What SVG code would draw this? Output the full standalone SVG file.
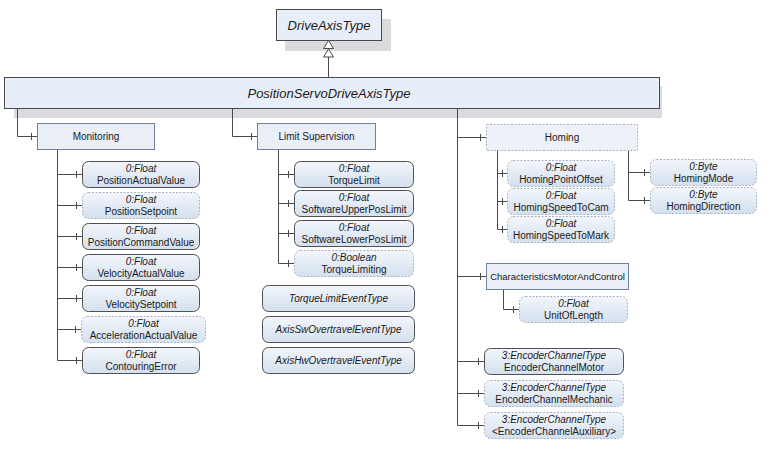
<svg xmlns="http://www.w3.org/2000/svg" width="770" height="450" viewBox="0 0 770 450">
<defs>
<linearGradient id="g" x1="0" y1="0" x2="0" y2="1">
<stop offset="0" stop-color="#f3f6fb"/>
<stop offset="1" stop-color="#d3e0ee"/>
</linearGradient>
<style>
text{font-family:"Liberation Sans",Arial,sans-serif;fill:#1a1a1a;text-anchor:middle}
.t{font-size:10px}
.s{font-size:9.5px}
.i{font-style:italic}
.big{font-size:13px;font-style:italic}
.shadow{fill:#d9dbde}
.bar{fill:#e8eef8;stroke:#4a4a4a;stroke-width:1}
.fold{fill:#e9eef7;stroke:#6f819d;stroke-width:1}
.fdash{fill:#eef2f8;stroke:#a9b2bd;stroke-width:1;stroke-dasharray:2,1.5}
.v{fill:url(#g);stroke:#505050;stroke-width:1}
.vd{fill:url(#g);stroke:#a9b2bd;stroke-width:1;stroke-dasharray:2,1.5}
.c{fill:none;stroke:#4a4a4a;stroke-width:1}
.tick{stroke:#4a4a4a;stroke-width:1}
.arr{fill:#fff;stroke:#4a4a4a;stroke-width:1}
</style>
</defs>
<rect width="770" height="450" fill="#fff"/>

<g id="DriveAxisType">
<rect class="shadow" x="285" y="19" width="106" height="32"/>
<rect class="bar" x="276.5" y="9.5" width="105" height="31"/>
<text class="big" x="329" y="30">DriveAxisType</text>
</g>

<g id="PositionServoDriveAxisType">
<rect class="shadow" x="14" y="86" width="648" height="32"/>
<rect class="bar" x="4.5" y="77.5" width="655" height="31"/>
<text class="big" x="329" y="98">PositionServoDriveAxisType</text>
</g>

<g id="connectors">
<path class="c" d="M328.5,57 V77"/>
<polygon class="arr" points="328.5,40.5 323.5,48.5 333.5,48.5"/>
<polygon class="arr" points="328.5,49 323.5,57 333.5,57"/>
<path class="c" d="M17.5,108 V136.5 H37"/>
<path class="tick" d="M31.5,133 V140"/>
<path class="c" d="M57.5,149 V360.5 H82"/>
<path class="c" d="M57.5,174.5 H82 M57.5,205.5 H82 M57.5,236.5 H82 M57.5,267.5 H82 M57.5,298.5 H82 M57.5,329.5 H81"/>
<path class="tick" d="M76.5,171 V178 M76.5,202 V209 M76.5,233 V240 M76.5,264 V271 M76.5,295 V302 M75.5,326 V333 M76.5,357 V364"/>
<path class="c" d="M232.5,108 V136.5 H257"/>
<path class="tick" d="M251.5,133 V140"/>
<path class="c" d="M278.5,150 V263.5 H294"/>
<path class="c" d="M278.5,174.5 H294 M278.5,203.5 H294 M278.5,233.5 H294"/>
<path class="tick" d="M288.5,171 V178 M288.5,200 V207 M288.5,230 V237 M288.5,260 V267"/>
<path class="c" d="M457.5,108 V425.5 H484"/>
<path class="c" d="M457.5,137.5 H486 M457.5,276.5 H486 M457.5,361.5 H484 M457.5,393.5 H484"/>
<path class="tick" d="M480.5,134 V141 M480.5,273 V280 M478.5,358 V365 M478.5,390 V397 M478.5,422 V429"/>
<path class="c" d="M497.5,150 V229.5 H507"/>
<path class="c" d="M497.5,173.5 H507 M497.5,201.5 H507"/>
<path class="tick" d="M502.5,170 V177 M502.5,198 V205 M502.5,226 V233"/>
<path class="c" d="M628.5,150 V200.5 H650"/>
<path class="c" d="M628.5,172.5 H650"/>
<path class="tick" d="M644.5,169 V176 M644.5,197 V204"/>
<path class="c" d="M503.5,289 V309.5 H519"/>
<path class="tick" d="M513.5,306 V313"/>
</g>

<g id="Monitoring">
<rect class="fold" x="37.5" y="123.5" width="117" height="26"/>
<text class="t" x="96" y="140">Monitoring</text>
</g>
<g id="PositionActualValue">
<rect class="v" x="82.5" y="161.5" width="117" height="26" rx="6"/>
<text class="t i" x="141" y="172">0:Float</text>
<text class="t" x="141" y="184">PositionActualValue</text>
</g>
<g id="PositionSetpoint">
<rect class="vd" x="82.5" y="192.5" width="117" height="26" rx="6"/>
<text class="t i" x="141" y="203">0:Float</text>
<text class="t" x="141" y="215">PositionSetpoint</text>
</g>
<g id="PositionCommandValue">
<rect class="v" x="82.5" y="223.5" width="117" height="26" rx="6"/>
<text class="t i" x="141" y="234">0:Float</text>
<text class="t" x="141" y="246">PositionCommandValue</text>
</g>
<g id="VelocityActualValue">
<rect class="v" x="82.5" y="254.5" width="117" height="26" rx="6"/>
<text class="t i" x="141" y="265">0:Float</text>
<text class="t" x="141" y="277">VelocityActualValue</text>
</g>
<g id="VelocitySetpoint">
<rect class="v" x="82.5" y="285.5" width="117" height="26" rx="6"/>
<text class="t i" x="141" y="296">0:Float</text>
<text class="t" x="141" y="308">VelocitySetpoint</text>
</g>
<g id="AccelerationActualValue">
<rect class="vd" x="81.5" y="316.5" width="124" height="26" rx="6"/>
<text class="t i" x="143.5" y="327">0:Float</text>
<text class="t" x="143.5" y="339">AccelerationActualValue</text>
</g>
<g id="ContouringError">
<rect class="v" x="82.5" y="347.5" width="117" height="26" rx="6"/>
<text class="t i" x="141" y="358">0:Float</text>
<text class="t" x="141" y="370">ContouringError</text>
</g>

<g id="LimitSupervision">
<rect class="fold" x="257.5" y="123.5" width="118" height="26"/>
<text class="t" x="316.5" y="140">Limit Supervision</text>
</g>
<g id="TorqueLimit">
<rect class="v" x="294.5" y="161.5" width="119" height="26" rx="6"/>
<text class="t i" x="354" y="172">0:Float</text>
<text class="t" x="354" y="184">TorqueLimit</text>
</g>
<g id="SoftwareUpperPosLimit">
<rect class="v" x="294.5" y="190.5" width="119" height="26" rx="6"/>
<text class="t i" x="354" y="201">0:Float</text>
<text class="t" x="354" y="213">SoftwareUpperPosLimit</text>
</g>
<g id="SoftwareLowerPosLimit">
<rect class="v" x="294.5" y="220.5" width="119" height="26" rx="6"/>
<text class="t i" x="354" y="231">0:Float</text>
<text class="t" x="354" y="243">SoftwareLowerPosLimit</text>
</g>
<g id="TorqueLimiting">
<rect class="vd" x="294.5" y="250.5" width="119" height="26" rx="6"/>
<text class="t i" x="354" y="261">0:Boolean</text>
<text class="t" x="354" y="273">TorqueLimiting</text>
</g>
<g id="TorqueLimitEventType">
<rect class="v" x="262.5" y="285.5" width="152" height="26" rx="6"/>
<text class="t i" x="338.5" y="302">TorqueLimitEventType</text>
</g>
<g id="AxisSwOvertravelEventType">
<rect class="v" x="262.5" y="316.5" width="152" height="26" rx="6"/>
<text class="t i" x="338.5" y="333">AxisSwOvertravelEventType</text>
</g>
<g id="AxisHwOvertravelEventType">
<rect class="v" x="262.5" y="347.5" width="152" height="26" rx="6"/>
<text class="t i" x="338.5" y="364">AxisHwOvertravelEventType</text>
</g>

<g id="Homing">
<rect class="fdash" x="486.5" y="124.5" width="151" height="26"/>
<text class="t" x="562" y="141">Homing</text>
</g>
<g id="HomingPointOffset">
<rect class="vd" x="507.5" y="160.5" width="107" height="26" rx="6"/>
<text class="t i" x="561" y="171">0:Float</text>
<text class="t" x="561" y="183">HomingPointOffset</text>
</g>
<g id="HomingSpeedToCam">
<rect class="vd" x="507.5" y="188.5" width="107" height="26" rx="6"/>
<text class="t i" x="561" y="199">0:Float</text>
<text class="t" x="561" y="211">HomingSpeedToCam</text>
</g>
<g id="HomingSpeedToMark">
<rect class="vd" x="507.5" y="216.5" width="107" height="26" rx="6"/>
<text class="t i" x="561" y="227">0:Float</text>
<text class="t" x="561" y="239">HomingSpeedToMark</text>
</g>
<g id="HomingMode">
<rect class="vd" x="650.5" y="159.5" width="106" height="26" rx="6"/>
<text class="t i" x="703.5" y="170">0:Byte</text>
<text class="t" x="703.5" y="182">HomingMode</text>
</g>
<g id="HomingDirection">
<rect class="vd" x="650.5" y="187.5" width="106" height="26" rx="6"/>
<text class="t i" x="703.5" y="198">0:Byte</text>
<text class="t" x="703.5" y="210">HomingDirection</text>
</g>

<g id="CharacteristicsMotorAndControl">
<rect class="fold" x="486.5" y="263.5" width="142" height="26"/>
<text class="s" x="557.5" y="280">CharacteristicsMotorAndControl</text>
</g>
<g id="UnitOfLength">
<rect class="vd" x="519.5" y="296.5" width="108" height="26" rx="6"/>
<text class="t i" x="573.5" y="307">0:Float</text>
<text class="t" x="573.5" y="319">UnitOfLength</text>
</g>
<g id="EncoderChannelMotor">
<rect class="v" x="484.5" y="348.5" width="139" height="26" rx="6"/>
<text class="t i" x="554" y="359">3:EncoderChannelType</text>
<text class="t" x="554" y="371">EncoderChannelMotor</text>
</g>
<g id="EncoderChannelMechanic">
<rect class="vd" x="484.5" y="380.5" width="139" height="26" rx="6"/>
<text class="t i" x="554" y="391">3:EncoderChannelType</text>
<text class="t" x="554" y="403">EncoderChannelMechanic</text>
</g>
<g id="EncoderChannelAuxiliary">
<rect class="vd" x="484.5" y="412.5" width="139" height="26" rx="6"/>
<text class="t i" x="554" y="423">3:EncoderChannelType</text>
<text class="t" x="554" y="435">&lt;EncoderChannelAuxiliary&gt;</text>
</g>
</svg>
